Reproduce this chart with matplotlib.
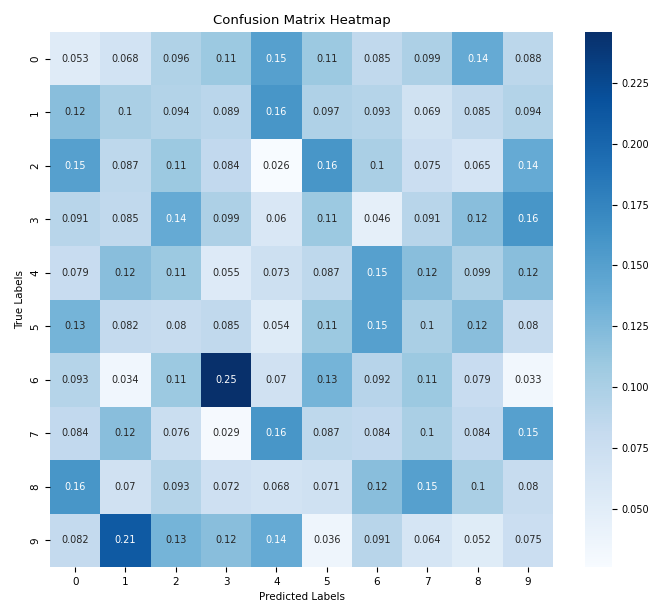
import matplotlib
matplotlib.use("Agg")
import matplotlib.pyplot as plt
import seaborn as sns
import numpy as np

# class labels 0..9
labels = ["0", "1", "2", "3", "4", "5", "6", "7", "8", "9"]

# confusion matrix values, one list per true label
row0 = [0.053, 0.068, 0.096, 0.11, 0.15, 0.11, 0.085, 0.099, 0.14, 0.088]
row1 = [0.12, 0.1, 0.094, 0.089, 0.16, 0.097, 0.093, 0.069, 0.085, 0.094]
row2 = [0.15, 0.087, 0.11, 0.084, 0.026, 0.16, 0.1, 0.075, 0.065, 0.14]
row3 = [0.091, 0.085, 0.14, 0.099, 0.06, 0.11, 0.046, 0.091, 0.12, 0.16]
row4 = [0.079, 0.12, 0.11, 0.055, 0.073, 0.087, 0.15, 0.12, 0.099, 0.12]
row5 = [0.13, 0.082, 0.08, 0.085, 0.054, 0.11, 0.15, 0.1, 0.12, 0.08]
row6 = [0.093, 0.034, 0.11, 0.246, 0.07, 0.13, 0.092, 0.11, 0.079, 0.033]
row7 = [0.084, 0.12, 0.076, 0.029, 0.16, 0.087, 0.084, 0.1, 0.084, 0.15]
row8 = [0.16, 0.07, 0.093, 0.072, 0.068, 0.071, 0.12, 0.15, 0.1, 0.08]
row9 = [0.082, 0.21, 0.13, 0.12, 0.14, 0.036, 0.091, 0.064, 0.052, 0.075]

cm = np.array([row0, row1, row2, row3, row4, row5, row6, row7, row8, row9])

fig = plt.figure(figsize=(6.51, 6.08), dpi=100)
ax = fig.add_axes([0.0768, 0.0674, 0.7727, 0.88])
cax = fig.add_axes([0.8986, 0.0674, 0.0415, 0.88])

sns.heatmap(cm, annot=True, fmt=".2g", cmap="Blues", ax=ax, cbar_ax=cax,
            xticklabels=labels, yticklabels=labels,
            annot_kws={"fontsize": 7})

# white text on the darker cells, as in the original
for txt, val in zip(ax.texts, cm.flatten()):
    txt.set_color("white" if val >= 0.135 else "#262626")

ax.set_title("Confusion Matrix Heatmap", fontsize=9.5)
ax.set_xlabel("Predicted Labels", fontsize=7.5)
ax.set_ylabel("True Labels", fontsize=7.5)
ax.tick_params(axis="both", labelsize=7.5)
plt.setp(ax.get_yticklabels(), rotation=90, va="center")
cax.tick_params(labelsize=7)

plt.savefig("out.png", dpi=100)
plt.close()
